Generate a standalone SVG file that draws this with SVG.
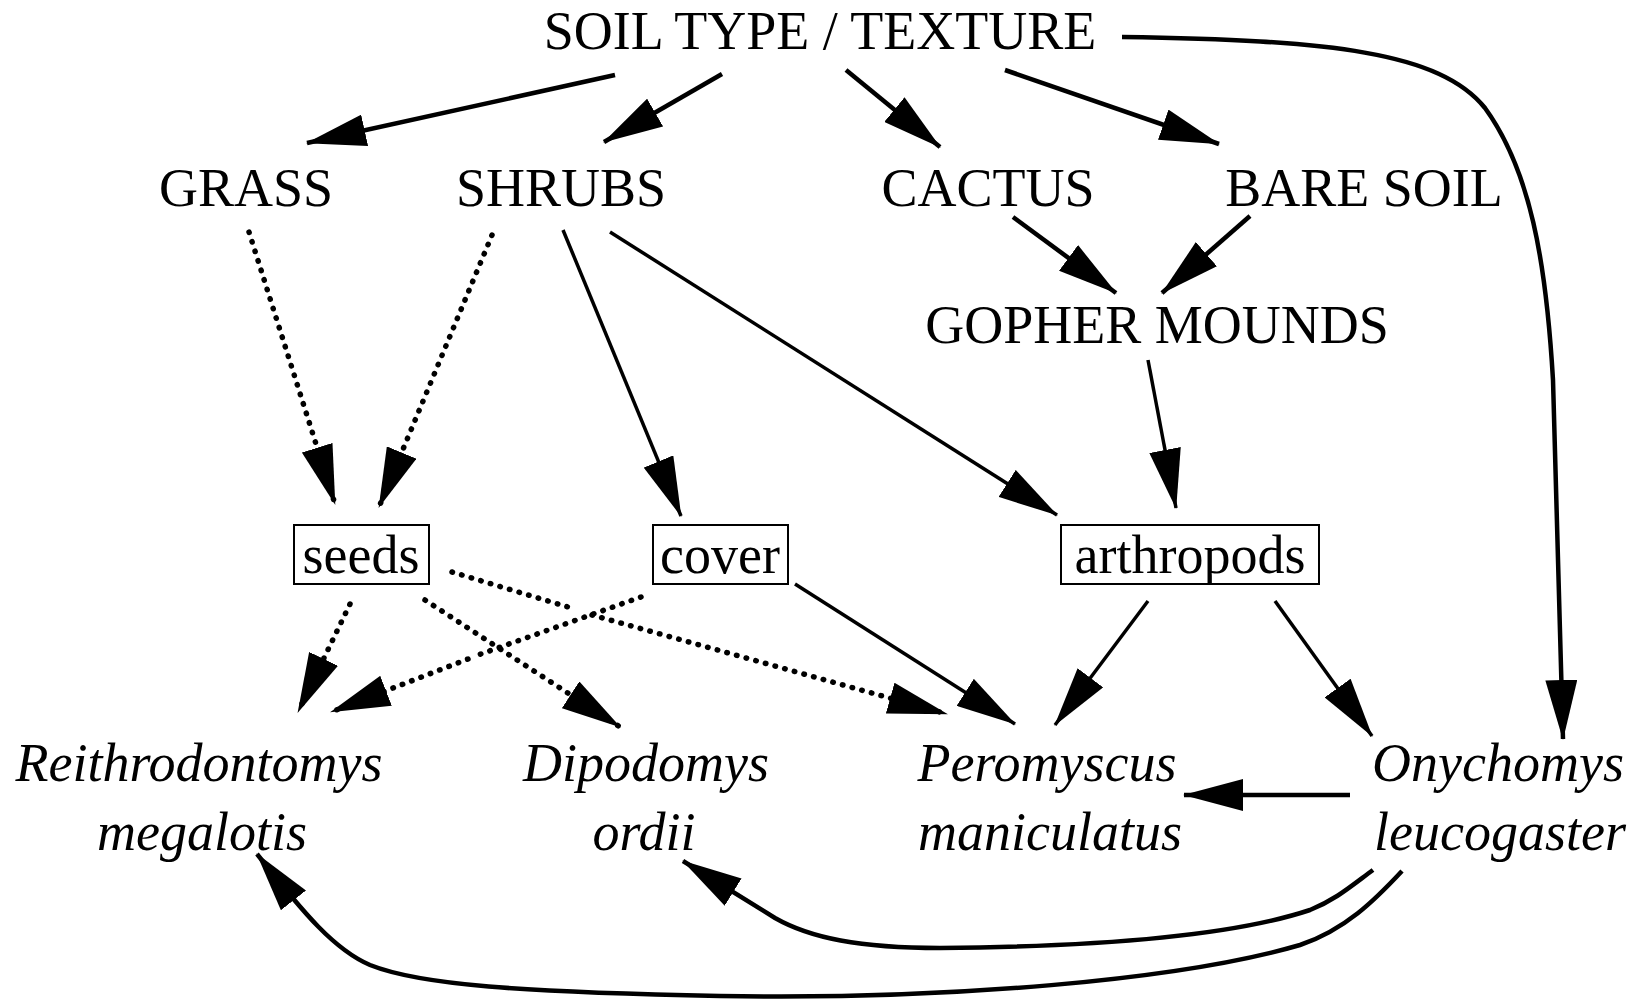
<svg xmlns="http://www.w3.org/2000/svg" width="1641" height="1001" viewBox="0 0 1641 1001">
<defs>
<style>
.t{font-family:"Liberation Serif","Times New Roman",serif;font-size:54px;fill:#000;text-anchor:middle}
.i{font-style:italic}
.box{fill:none;stroke:#000;stroke-width:2}
.s{fill:none;stroke:#000;stroke-width:3.5;marker-end:url(#ah)}
.b{fill:none;stroke:#000;stroke-width:4.5;marker-end:url(#ah)}
.d{fill:none;stroke:#000;stroke-width:5.5;stroke-dasharray:0.5 9.5;stroke-linecap:round;marker-end:url(#ah)}
.dn{fill:none;stroke:#000;stroke-width:5.5;stroke-dasharray:0.5 9.5;stroke-linecap:round}
</style>
<marker id="ah" markerUnits="userSpaceOnUse" viewBox="0 0 60 32" refX="59" refY="16" markerWidth="60" markerHeight="32" orient="auto">
<path d="M0,0 L60,16 L0,32 z" fill="#000"/>
</marker>
</defs>
<rect width="1641" height="1001" fill="#fff"/>
<g id="connectors">
<path class="b" d="M615,75 L307,143"/>
<path class="b" d="M722,74 L604,142"/>
<path class="b" d="M846,70 L940,147"/>
<path class="b" d="M1005,70 L1219,144"/>
<path class="b" d="M1122,37 C1330,40 1440,52 1485,108 C1530,170 1546,260 1553,380 L1563,739"/>
<path class="d" d="M249,232 L335,504"/>
<path class="d" d="M492,235 L379,507"/>
<path class="s" d="M563,230 L681,516"/>
<path class="s" d="M610,232 L1057,515"/>
<path class="b" d="M1013,217 L1116,293"/>
<path class="b" d="M1250,216 L1162,293"/>
<path class="s" d="M1148,360 L1176,508"/>
<path class="d" d="M350,604 L298,712"/>
<path class="dn" d="M641,597 L478,655"/>
<path class="d" d="M468,659 L331,712"/>
<path class="d" d="M425,600 L620,727"/>
<path class="dn" d="M452,572 L568,607"/>
<path class="d" d="M592,615 L947,714"/>
<path class="s" d="M795,584 L1015,724"/>
<path class="s" d="M1148,601 L1055,725"/>
<path class="s" d="M1275,601 L1372,736"/>
<path class="b" d="M1350,795 L1184,795"/>
<path class="b" d="M1373,870 C1350,887 1335,900 1310,910 C1220,940 1060,947 940,948 C860,948 810,938 775,918 L683,861"/>
<path class="b" d="M1402,871 C1375,900 1345,930 1300,945 C1180,980 950,1000 720,996 C520,992 420,985 370,965 C335,950 305,915 257,854"/>
</g>
<g id="soil"><text class="t" x="820" y="49">SOIL TYPE / TEXTURE</text></g>
<g id="grass"><text class="t" x="246" y="206">GRASS</text></g>
<g id="shrubs"><text class="t" x="561" y="206">SHRUBS</text></g>
<g id="cactus"><text class="t" x="988" y="206">CACTUS</text></g>
<g id="bare-soil"><text class="t" x="1364" y="206">BARE SOIL</text></g>
<g id="gopher-mounds"><text class="t" x="1157" y="343">GOPHER MOUNDS</text></g>
<g id="seeds"><rect class="box" x="294" y="525" width="135" height="59"/><text class="t" x="361" y="573">seeds</text></g>
<g id="cover"><rect class="box" x="653" y="525" width="135" height="59"/><text class="t" x="720" y="573">cover</text></g>
<g id="arthropods"><rect class="box" x="1061" y="525" width="258" height="59"/><text class="t" x="1190" y="573">arthropods</text></g>
<g id="reithrodontomys"><text class="t i" x="199" y="781">Reithrodontomys</text><text class="t i" x="202" y="850">megalotis</text></g>
<g id="dipodomys"><text class="t i" x="646" y="781">Dipodomys</text><text class="t i" x="644" y="850">ordii</text></g>
<g id="peromyscus"><text class="t i" x="1047" y="781">Peromyscus</text><text class="t i" x="1050" y="850">maniculatus</text></g>
<g id="onychomys"><text class="t i" x="1498" y="781">Onychomys</text><text class="t i" x="1500" y="850">leucogaster</text></g>
</svg>
